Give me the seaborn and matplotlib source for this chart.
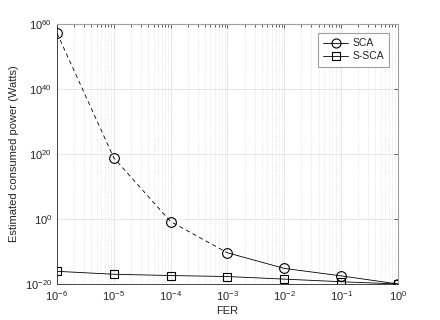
import numpy as np
import pandas as pd
import seaborn as sns
import matplotlib
matplotlib.use("Agg")
import matplotlib.pyplot as plt
from matplotlib.ticker import FixedLocator, NullLocator, NullFormatter
from matplotlib.lines import Line2D

sns.set_style("white")
plt.rcParams['font.family'] = ['Liberation Sans', 'DejaVu Sans']
plt.rcParams['mathtext.fontset'] = 'custom'
plt.rcParams['mathtext.rm'] = 'Liberation Sans'
plt.rcParams['mathtext.it'] = 'Liberation Sans'

# Data
fer = [1e-6, 1e-5, 1e-4, 1e-3, 1e-2, 1e-1, 1e0]
sca_log = [57.2, 18.8, -0.8, -10.4, -15.2, -17.5, -20.0]
ssca_log = [-16.1, -17.0, -17.4, -17.7, -18.5, -19.3, -20.0]
x_exps = [-6, -5, -4, -3, -2, -1, 0]
y_exps = [-20, 0, 20, 40, 60]

sca = [10.0 ** v for v in sca_log]
ssca = [10.0 ** v for v in ssca_log]

df = pd.DataFrame({"FER": fer, "SCA": sca, "S-SCA": ssca})

fig = plt.figure(figsize=(4.4, 3.2), dpi=100)
ax = fig.add_axes([0.1295, 0.1125, 0.775, 0.8125])

# SCA: dashed part (extrapolated), solid part
sns.lineplot(data=df.iloc[:4], x="FER", y="SCA", ax=ax, color="black",
             linestyle=(0, (5, 4)), linewidth=0.6)
sns.lineplot(data=df.iloc[3:], x="FER", y="SCA", ax=ax, color="black",
             linewidth=0.6)
ax.plot(df["FER"], df["SCA"], linestyle="none", marker="o", markersize=7,
        markerfacecolor="none", markeredgecolor="black", markeredgewidth=0.8)
sns.lineplot(data=df, x="FER", y="S-SCA", ax=ax, color="black", linewidth=0.6,
             marker="s", markersize=6, markerfacecolor="none",
             markeredgecolor="black", markeredgewidth=0.8)

ax.set_xscale("log")
ax.set_yscale("log")
ax.set_xlim(1e-6, 1e0)
ax.set_ylim(1e-20, 1e60)

ax.set_xticks([10.0 ** e for e in x_exps])
ax.set_xticklabels([r"$10^{%d}$" % e for e in x_exps])
minor_x = [m * 10.0 ** e for e in x_exps[:-1] for m in range(2, 10)]
ax.xaxis.set_minor_locator(FixedLocator(minor_x))
ax.xaxis.set_minor_formatter(NullFormatter())
ax.set_yticks([10.0 ** e for e in y_exps])
ax.set_yticklabels([r"$10^{%d}$" % e for e in y_exps])
ax.yaxis.set_minor_locator(NullLocator())

ax.grid(which="major", color="#e3e3e3", linewidth=0.6, linestyle="-")
ax.grid(which="minor", axis="x", color="#cfcfcf", linewidth=0.5, linestyle=(0, (1, 2)))
ax.set_axisbelow(True)

ax.tick_params(which="both", direction="in", top=True, right=True,
               labelsize=8, colors="#262626")
ax.tick_params(which="major", length=3, width=0.5)
ax.tick_params(which="minor", length=2, width=0.5)
ax.tick_params(axis="x", pad=4)

for s in ["left", "bottom"]:
    ax.spines[s].set_color("#262626")
    ax.spines[s].set_linewidth(0.6)
for s in ["top", "right"]:
    ax.spines[s].set_color("#a0a0a0")
    ax.spines[s].set_linewidth(0.8)

ax.set_xlabel("FER", fontsize=8, color="#262626", labelpad=2)
ax.set_ylabel("Estimated consumed power (Watts)", fontsize=8, color="#262626", labelpad=4)

handles = [Line2D([], [], color="black", linewidth=0.6, marker="o", markersize=6.5,
                  markerfacecolor="none", markeredgewidth=0.8),
           Line2D([], [], color="black", linewidth=0.6, marker="s", markersize=5.5,
                  markerfacecolor="none", markeredgewidth=0.8)]
leg = ax.legend(handles, ["SCA", "S-SCA"], loc="upper right", fontsize=7.5,
                frameon=True, fancybox=False, edgecolor="#888888",
                bbox_to_anchor=(0.974, 0.965), borderaxespad=0,
                handlelength=2.4, borderpad=0.5, labelspacing=0.3,
                handletextpad=0.4)
leg.get_frame().set_linewidth(0.8)

fig.savefig("out.png", dpi=100)
